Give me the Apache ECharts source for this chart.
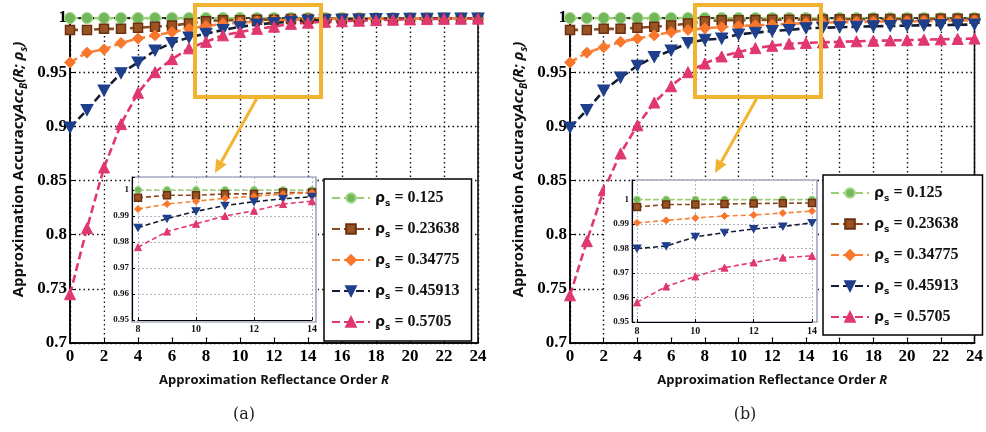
<!DOCTYPE html>
<html><head><meta charset="utf-8">
<script src="https://cdn.jsdelivr.net/npm/echarts@6/dist/echarts.min.js"></script>
<style>html,body{margin:0;padding:0;background:#fff}#c{width:986px;height:432px}</style>
</head><body><div id="c"></div>
<script>
// ---------- data ----------
var orders = [0,1,2,3,4,5,6,7,8,9,10,11,12,13,14,15,16,17,18,19,20,21,22,23,24];
var seriesNames = ['0.125','0.23638','0.34775','0.45913','0.5705'];
var xTickLabels = ['0','2','4','6','8','10','12','14','16','18','20','22','24'];
var yTickLabelsA = ['0.7','0.73','0.8','0.85','0.9','0.95','1'];
var yTickLabelsB = ['0.7','0.75','0.8','0.85','0.9','0.95','1'];
var insetXTickLabels = ['8','10','12','14'];
var insetYTickLabels = ['0.95','0.96','0.97','0.98','0.99','1'];

// panel (a)
var a125    = [1,1,1,1,1,1,1,1,1,1,1,1,1,1,1,1,1,1,1,1,1,1,1,1,1];
var a23638  = [0.989,0.989,0.990,0.990,0.991,0.992,0.993,0.995,0.997,0.998,0.998,0.9985,0.9985,0.999,0.999,0.9992,0.9993,0.9994,0.9995,0.9995,0.9996,0.9996,0.9997,0.9997,0.9998];
var a34775  = [0.959,0.968,0.971,0.977,0.981,0.984,0.987,0.990,0.9927,0.9946,0.9957,0.9968,0.9976,0.9984,0.999,0.9992,0.9993,0.9994,0.9995,0.9996,0.9996,0.9997,0.9997,0.9998,0.9998];
var a45913  = [0.899,0.915,0.933,0.949,0.959,0.970,0.977,0.982,0.9855,0.989,0.9918,0.994,0.9955,0.9966,0.9974,0.998,0.9984,0.9987,0.999,0.9992,0.9993,0.9994,0.9995,0.9996,0.9996];
var a5705   = [0.745,0.806,0.862,0.902,0.931,0.950,0.962,0.972,0.978,0.984,0.987,0.990,0.992,0.9946,0.9957,0.9965,0.997,0.9975,0.998,0.9984,0.9987,0.999,0.9992,0.9993,0.9994];

// panel (b)
var b125    = [1,1,1,1,1,1,1,1,1,1,1,1,1,1,1,1,1,1,1,1,1,1,1,1,1];
var b23638  = [0.989,0.989,0.990,0.990,0.991,0.992,0.993,0.995,0.997,0.998,0.998,0.9982,0.9984,0.9985,0.9986,0.9987,0.9988,0.9989,0.999,0.999,0.9991,0.9991,0.9992,0.9992,0.9993];
var b34775  = [0.959,0.968,0.973,0.978,0.981,0.984,0.987,0.989,0.9905,0.9915,0.9925,0.9933,0.9937,0.9945,0.9953,0.9957,0.996,0.9963,0.9966,0.9968,0.997,0.9972,0.9974,0.9976,0.9978];
var b45913  = [0.899,0.915,0.933,0.945,0.956,0.964,0.970,0.977,0.980,0.981,0.9848,0.9865,0.988,0.989,0.9905,0.991,0.9915,0.992,0.9923,0.9926,0.993,0.9932,0.9935,0.9937,0.994];
var b5705   = [0.744,0.794,0.841,0.875,0.901,0.922,0.937,0.950,0.958,0.9645,0.9686,0.9722,0.9743,0.9763,0.977,0.9775,0.978,0.9785,0.979,0.9793,0.9796,0.98,0.9803,0.9806,0.981];

// ---------- styles ----------
var styles = [
  {symbol:'circle',  color:'#72b85a', border:'#a6d88a', line:'#9bd070'},
  {symbol:'rect',    color:'#9a5424', border:'#6a3010', line:'#8a4a1e'},
  {symbol:'diamond', color:'#f8772c', border:'#f8772c', line:'#f8823a'},
  {symbol:'path://M0,0 L10,0 L5,9 Z', color:'#1e3f8c', border:'#1e3f8c', line:'#141c33'},
  {symbol:'triangle',color:'#e0376f', border:'#e0376f', line:'#e0376f'}
];
var serif = 'Liberation Serif';
var sans = 'Open Sans';

function pairs(xs, ys, from, to){
  var out = [];
  for (var i = from; i <= to; i++) out.push([xs[i], ys[i]]);
  return out;
}
function makeSeries(arr, xi, yi, inset){
  return arr.map(function(ys, k){
    var s = styles[k];
    return {
      type:'line', name: seriesNames[k], xAxisIndex:xi, yAxisIndex:yi,
      data: inset ? pairs(orders, ys, 8, 14) : pairs(orders, ys, 0, 24),
      symbol: s.symbol, symbolSize: inset ? (k===3?[8,7]:7) : (k===3?[12,11]:(k===1?9:11)),
      itemStyle:{color:s.color, borderColor:s.border, borderWidth: k===1?1.5:1},
      lineStyle:{color:s.line, width: inset?1.6:2.6, type: inset?[5,3]:[8,4]},
      z: inset ? 6 : 2, silent:true, animation:false
    };
  });
}

function mainX(gi){
  return {type:'value', gridIndex:gi, min:0, max:24, interval:2, z:1,
    axisLine:{lineStyle:{color:'#000', width:1.5}},
    axisTick:{inside:true, length:5, lineStyle:{color:'#000'}},
    axisLabel:{color:'#000', fontFamily:serif, fontWeight:'bold', fontSize:17, margin:5,
      formatter:function(v){ return xTickLabels[Math.round(v/2)] || ''; }},
    splitLine:{show:true, lineStyle:{type:[1.5,3], color:'#111', width:1.4}},
    name:'Approximation Reflectance Order {i|R}', nameLocation:'middle', nameGap:31,
    nameTextStyle:{color:'#111', fontFamily:sans, fontWeight:'bold', fontSize:13,
      rich:{i:{fontFamily:sans, fontStyle:'italic', fontWeight:'bold', fontSize:13, color:'#111'}}}
  };
}
function mainY(gi, labels){
  return {type:'value', gridIndex:gi, min:0.7, max:1, interval:0.05, z:1,
    axisLine:{lineStyle:{color:'#000', width:1.5}},
    axisTick:{inside:true, length:5, lineStyle:{color:'#000'}},
    axisLabel:{color:'#000', fontFamily:serif, fontWeight:'bold', fontSize:17, margin:3,
      formatter:function(v){ var i = Math.round((v-0.7)/0.05); return labels[i] || ''; }},
    splitLine:{show:true, lineStyle:{type:[1.5,3], color:'#111', width:1.4}},
    name:'Approximation Accuracy{i|Acc}{sb|B}{i|(R; ρ}{sb|s}{i|)}', nameLocation:'middle', nameGap:41, nameRotate:90,
    nameTextStyle:{color:'#111', fontFamily:sans, fontWeight:'bold', fontSize:15, lineHeight:20, padding:[0,0,0,22],
      rich:{
        i:{fontFamily:sans, fontStyle:'italic', fontWeight:'bold', fontSize:15, color:'#111', lineHeight:20},
        sb:{fontFamily:sans, fontStyle:'italic', fontWeight:'bold', fontSize:10, color:'#111', lineHeight:9, verticalAlign:'bottom'}
      }}
  };
}
function insetX(gi){
  return {type:'value', gridIndex:gi, min:8, max:14, interval:2, z:5,
    axisLine:{lineStyle:{color:'#000', width:1.2}},
    axisTick:{inside:true, length:3, lineStyle:{color:'#000'}},
    axisLabel:{color:'#111', fontFamily:serif, fontWeight:'bold', fontSize:10, margin:4,
      formatter:function(v){ return insetXTickLabels[Math.round((v-8)/2)] || ''; }},
    splitLine:{show:true, lineStyle:{type:[2,2], color:'#b4b4c0', width:1}}
  };
}
function insetY(gi, maxv, off){
  return {type:'value', gridIndex:gi, min:0.95, max:maxv, interval:0.01, z:5, offset:off,
    axisLine:{lineStyle:{color:'#000', width:1.2}},
    axisTick:{inside:true, length:3, lineStyle:{color:'#000'}},
    axisLabel:{color:'#111', fontFamily:serif, fontWeight:'bold', fontSize:9, margin:3,
      formatter:function(v){ var r = (v-0.95)/0.01, i = Math.round(r);
        if (Math.abs(r-i) > 0.05) return ''; return insetYTickLabels[i] || ''; }},
    splitLine:{show:true, lineStyle:{type:[2,2], color:'#b4b4c0', width:1}}
  };
}
function legendFor(left, top, pad){
  return {show:true, orient:'vertical', left:left, top:top, data:seriesNames,
    itemWidth:38, itemHeight:12, itemGap:11, padding:pad,
    backgroundColor:'#fff', borderColor:'#000', borderWidth:1.5, z:8,
    selectedMode:false,
    formatter:function(n){ return '{g|ρ}{s|s}{t| = ' + n + '}'; },
    textStyle:{color:'#111', fontFamily:serif, fontWeight:'bold', fontSize:16, lineHeight:20,
      rich:{
        g:{fontFamily:'DejaVu Sans', fontWeight:'bold', fontSize:14, color:'#111', lineHeight:20},
        s:{fontFamily:'DejaVu Sans', fontWeight:'bold', fontSize:9, color:'#111', lineHeight:9, verticalAlign:'bottom'},
        t:{fontFamily:serif, fontWeight:'bold', fontSize:16, color:'#111', lineHeight:20}
      }}
  };
}
var gold = '#f2b430';
function decor(dx){
  var sx = 257+dx, sy = 98, tx = 215+dx, ty = 173;
  var ux = tx-sx, uy = ty-sy, L = Math.sqrt(ux*ux+uy*uy); ux/=L; uy/=L;
  var bx = tx-13*ux, by = ty-13*uy, px = -uy, py = ux;
  return [
    {type:'rect', shape:{x:105+dx, y:184, width:213, height:152}, style:{fill:'#fff'}, z:3, silent:true},
    {type:'rect', shape:{x:132+dx, y:177+(dx?3:0), width:184+(dx?1:0), height:145-(dx?3:0)}, style:{fill:'#fff', stroke:'#7d84ad', lineWidth:1.2}, z:3, silent:true},
    {type:'rect', shape:{x:195+dx, y:5, width:126, height:92}, style:{fill:'none', stroke:gold, lineWidth:4}, z:20, silent:true},
    {type:'line', shape:{x1:sx, y1:sy, x2:bx, y2:by}, style:{stroke:gold, lineWidth:3}, z:20, silent:true},
    {type:'polygon', shape:{points:[[tx,ty],[bx+6*px,by+6*py],[bx-6*px,by-6*py]]}, style:{fill:gold}, z:20, silent:true},
    {type:'text', x:(dx?745:244), y:415, style:{text:dx?'(b)':'(a)', fontFamily:'DejaVu Serif', fontSize:16, fill:'#222',
      align:'center', verticalAlign:'middle', textAlign:'center', textVerticalAlign:'middle'}, z:20, silent:true}
  ];
}

var option = {
  animation:false,
  backgroundColor:'#fff',
  grid:[
    {left:70, top:18, width:408, height:325, show:true, borderColor:'#000', borderWidth:1.5},
    {left:570, top:18, width:408, height:325, show:true, borderColor:'#000', borderWidth:1.5},
    {left:138, top:177, width:174, height:143},
    {left:637, top:180, width:175, height:142}
  ],
  xAxis:[mainX(0), mainX(1), insetX(2), insetX(3)],
  yAxis:[mainY(0, yTickLabelsA), mainY(1, yTickLabelsB), insetY(2, 1.005, 6), insetY(3, 1.008, 5)],
  legend:[legendFor(324,179,[9,12,9,7]), legendFor(823,175,[8,24,8,7])],
  graphic:{elements: decor(0).concat(decor(500))},
  series:[].concat(
    makeSeries([a125,a23638,a34775,a45913,a5705], 0, 0, false),
    makeSeries([b125,b23638,b34775,b45913,b5705], 1, 1, false),
    makeSeries([a125,a23638,a34775,a45913,a5705], 2, 2, true),
    makeSeries([b125,b23638,b34775,b45913,b5705], 3, 3, true)
  )
};
var chart = echarts.init(document.getElementById('c'), null, {renderer:'canvas'});
chart.setOption(option);
</script>
</body></html>
